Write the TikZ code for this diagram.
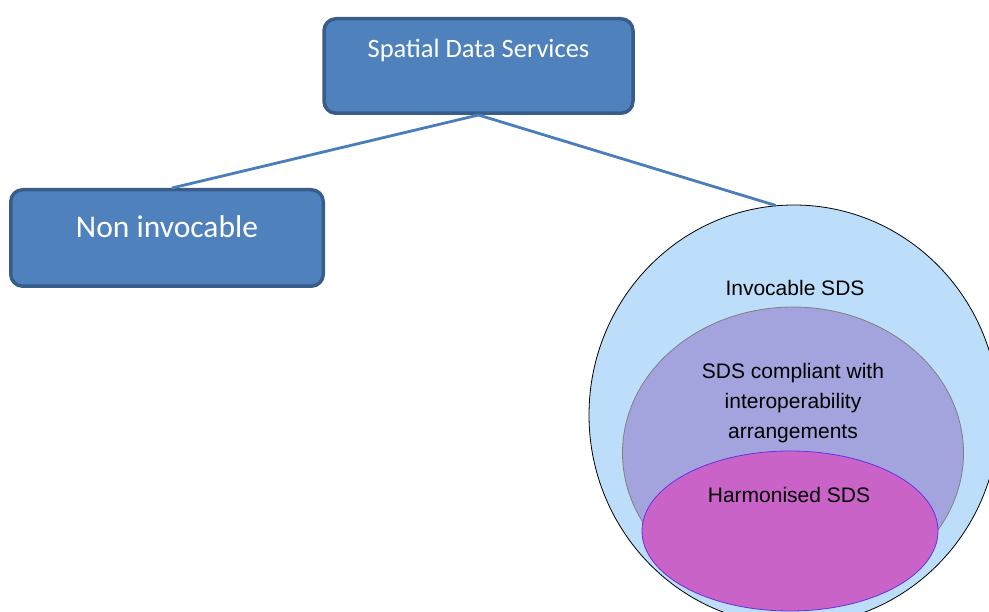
\documentclass[tikz,border=0pt]{standalone}
\usepackage{fontspec}
\setmainfont{Carlito}
\newfontfamily\arialfont{Liberation Sans}
\usepackage{xcolor}
\usetikzlibrary{positioning}
\usetikzlibrary{shapes.geometric}

\definecolor{boxblue}{HTML}{4F81BD}
\definecolor{boxedge}{HTML}{385D8A}
\definecolor{linkblue}{HTML}{4A7EBB}
\definecolor{invblue}{HTML}{BDDEFB}
\definecolor{intlav}{HTML}{A3A3DE}
\definecolor{harmpink}{HTML}{C963C8}

\begin{document}
\begin{tikzpicture}[x=1pt,y=-1pt,
  sdsbox/.style={draw=boxedge, fill=boxblue, line width=3.5pt, rounded corners=12pt, inner sep=0pt},
  boxtext/.style={text=white, inner sep=0pt},
  sdsset/.style={ellipse, inner sep=0pt, line width=0.8pt},
  settext/.style={inner sep=0pt, align=center, font=\arialfont\fontsize{21}{30}\selectfont},
  link/.style={linkblue, line width=2.8pt}]
\useasboundingbox (0,0) rectangle (989,612);

% the two boxes
\node[sdsbox, minimum width=309pt, minimum height=94.5pt] (sds) at (478.5,66) {};
\node[boxtext, font=\fontsize{26.5}{30}\selectfont] (sdstext) at (478.5,50) {Spatial Data Services};

\node[sdsbox, minimum width=312.5pt, minimum height=96.5pt] (nonin) at (167,238) {};
\node[boxtext, font=\fontsize{31.5}{36}\selectfont] (nonintext) at (167,227) {Non invocable};

\draw[link] (sds.south) -- ([xshift=5pt]nonin.north);

% nested sets
\begin{scope}
\clip (0,0) rectangle (989,612);
\node[sdsset, draw=black, fill=invblue, minimum width=410pt, minimum height=420pt] (invoc) at (794,415) {};
\draw[link] (sds.south) -- (invoc.95);
\node[sdsset, draw=gray, fill=intlav, minimum width=341pt, minimum height=292pt] (interop) at (793,453) {};
\node[sdsset, draw=blue!50!harmpink, fill=harmpink, minimum width=296pt, minimum height=160pt] (harm) at (790,531) {};
\end{scope}

\node[settext] (invoctext) at (795,288) {Invocable SDS};
\node[settext] (interoptext) at (793,403) {SDS compliant with\\interoperability\\arrangements};
\node[settext] (harmtext) at (789,495) {Harmonised SDS};

\end{tikzpicture}
\end{document}
